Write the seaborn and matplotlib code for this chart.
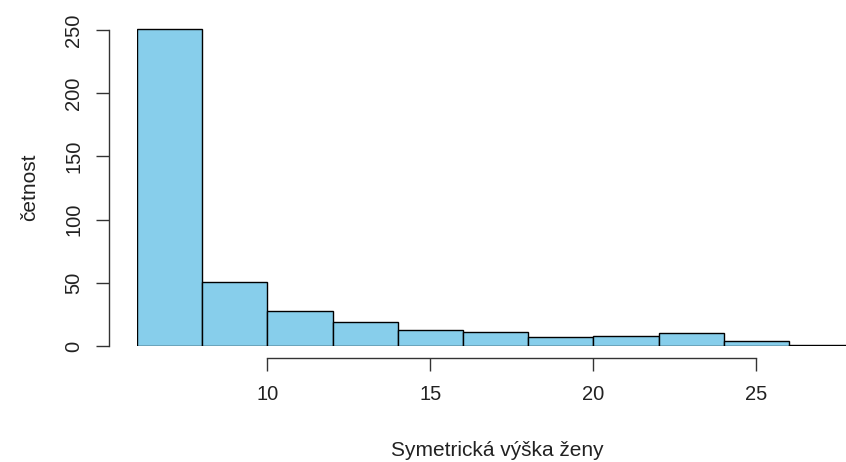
import numpy as np
import pandas as pd
import matplotlib
matplotlib.use("Agg")
import matplotlib.pyplot as plt
import seaborn as sns

# Histogram data (bin edges and counts)
bin_edges = [6, 8, 10, 12, 14, 16, 18, 20, 22, 24, 26, 28]
counts = [251, 51, 28, 19, 13, 11, 7, 8, 10, 4, 1]
x_ticks = [10, 15, 20, 25]
y_ticks = [0, 50, 100, 150, 200, 250]
x_label = "Symetrická výška ženy"
y_label = "četnost"

sns.set_style("white")
plt.rcParams['font.family'] = ['Liberation Sans', 'DejaVu Sans']

centers = [(a + b) / 2 for a, b in zip(bin_edges[:-1], bin_edges[1:])]
df = pd.DataFrame({"x": centers, "w": counts})

fig = plt.figure(figsize=(8.46, 4.62), dpi=100)
ax = fig.add_axes([137/846, (462-346)/462, 709/846, 322.3/462])

sns.histplot(data=df, x="x", weights="w", bins=bin_edges, ax=ax,
             color="#87CEEB", alpha=1, edgecolor="black", linewidth=1.0)

ax.set_xlim(6, 6 + 709/32.6)
ax.set_ylim(0, 255)

for s in ["top", "right"]:
    ax.spines[s].set_visible(False)
ax.spines["left"].set_position(("outward", 28*0.72))
ax.spines["left"].set_bounds(0, 250)
ax.spines["bottom"].set_position(("outward", 12*0.72))
ax.spines["bottom"].set_bounds(10, 25)
for s in ["left", "bottom"]:
    ax.spines[s].set_color("#333333")
    ax.spines[s].set_linewidth(1.0)

ax.set_xticks(x_ticks)
ax.set_yticks(y_ticks)
ax.set_yticklabels([str(v) for v in y_ticks], rotation=90, va="center")
ax.tick_params(axis="both", which="both", bottom=True, left=True,
               length=9.5, width=1.0, color="#333333",
               labelsize=14.5, labelcolor="#222222", direction="out")
ax.tick_params(axis="x", pad=10)
ax.tick_params(axis="y", pad=9)
ax.set_xlabel(x_label, fontsize=15, color="#222222", va="center", ha="center")
ax.xaxis.set_label_coords((497-137)/709, (346-450)/322.3)
ax.set_ylabel(y_label, fontsize=15, color="#222222", va="center", ha="center")
ax.yaxis.set_label_coords((30-137)/709, (346-187)/322.3)

fig.savefig("out.png", dpi=100)
